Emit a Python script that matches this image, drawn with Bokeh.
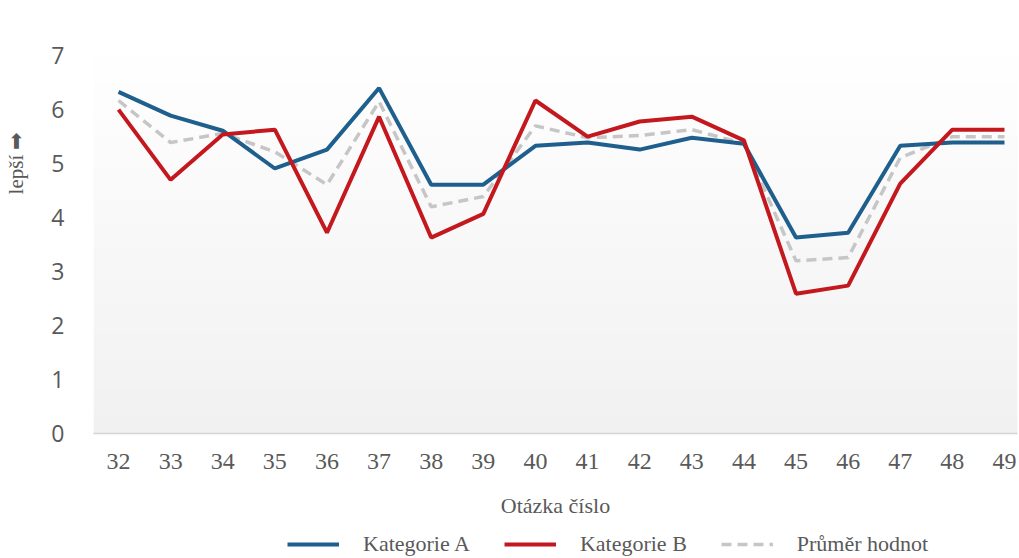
import numpy as np
from bokeh.plotting import figure
from bokeh.layouts import column
from bokeh.models import Range1d, FixedTicker, Legend, LegendItem
from bokeh.embed import file_html
from bokeh.resources import INLINE

questions = [32, 33, 34, 35, 36, 37, 38, 39, 40, 41, 42, 43, 44, 45, 46, 47, 48, 49]
kategorie_a = [6.33, 5.89, 5.61, 4.91, 5.26, 6.40, 4.61, 4.61, 5.33, 5.39, 5.26, 5.48, 5.37, 3.63, 3.72, 5.33, 5.39, 5.39]
kategorie_b = [6.00, 4.70, 5.54, 5.63, 3.72, 5.87, 3.63, 4.07, 6.17, 5.50, 5.78, 5.87, 5.43, 2.59, 2.74, 4.63, 5.63, 5.63]
prumer = [6.17, 5.39, 5.56, 5.22, 4.61, 6.15, 4.20, 4.39, 5.70, 5.48, 5.52, 5.63, 5.37, 3.20, 3.26, 5.11, 5.50, 5.50]
y_ticks = [0, 1, 2, 3, 4, 5, 6, 7]
series_names = ["Kategorie A", "Kategorie B", "Průměr hodnot"]

serif = "Liberation Serif"
sans = "Open Sans"
txt = "#595959"
col_a, col_b, col_avg = "#1f5f8e", "#c4181f", "#c6c6c6"

x0, x1 = 31.52, 49.25
y0, y1 = 0, 7.3

p = figure(width=1019, height=530, output_backend="svg", toolbar_location=None,
           x_range=Range1d(x0, x1), y_range=Range1d(y0, y1),
           min_border_left=93, min_border_right=2, min_border_top=39, min_border_bottom=97)
p.outline_line_color = None
p.background_fill_color = "white"
p.border_fill_color = "white"

# soft vertical gradient background in the plot area
n = 64
grad = np.zeros((n, 1), dtype=np.uint32)
view = grad.view(dtype=np.uint8).reshape((n, 1, 4))
for i in range(n):
    t = i / (n - 1)  # 0 bottom -> 1 top
    c = int(round(241 + 14 * t))
    view[i, 0, :] = [c, c, c, 255]
p.image_rgba(image=[grad], x=x0, y=y0, dw=x1 - x0, dh=y1 - y0)

# axes
p.xaxis.ticker = FixedTicker(ticks=questions)
p.yaxis.ticker = FixedTicker(ticks=y_ticks)
p.xaxis.major_tick_line_color = None
p.xaxis.minor_tick_line_color = None
p.yaxis.major_tick_line_color = None
p.yaxis.minor_tick_line_color = None
p.yaxis.axis_line_color = None
p.xaxis.axis_line_color = "#d4d4d4"
p.xaxis.axis_line_width = 1.5

p.xaxis.major_label_text_font = serif
p.xaxis.major_label_text_font_size = "24px"
p.xaxis.major_label_text_color = txt
p.xaxis.major_label_standoff = 14
p.xaxis.axis_label = "Otázka číslo"
p.xaxis.axis_label_text_font = serif
p.xaxis.axis_label_text_font_style = "normal"
p.xaxis.axis_label_text_font_size = "22px"
p.xaxis.axis_label_text_color = txt
p.xaxis.axis_label_standoff = 21

p.yaxis.major_label_text_font = sans
p.yaxis.major_label_text_font_size = "23px"
p.yaxis.major_label_text_color = txt
p.yaxis.major_label_standoff = 23
# leading em spaces shift the centred, rotated label upward as in the reference
p.yaxis.axis_label = "\u2003" * 7 + "lepší ➡"
p.yaxis.axis_label_text_font = serif
p.yaxis.axis_label_text_font_style = "normal"
p.yaxis.axis_label_text_font_size = "21px"
p.yaxis.axis_label_text_color = txt
p.yaxis.axis_label_standoff = 20

p.xgrid.grid_line_color = "#d9d9d9"
p.xgrid.grid_line_width = 1
p.ygrid.grid_line_color = None

p.line(questions, prumer, line_color=col_avg, line_width=3.5, line_dash="10 6")
p.line(questions, kategorie_a, line_color=col_a, line_width=4)
p.line(questions, kategorie_b, line_color=col_b, line_width=4)

# legend strip below the chart (its lines fall outside this strip's ranges; only the legend shows)
p2 = figure(width=1019, height=28, output_backend="svg", toolbar_location=None,
            x_axis_type=None, y_axis_type=None, min_border=0,
            x_range=Range1d(0, 1), y_range=Range1d(0, 1))
p2.outline_line_color = None
p2.background_fill_color = "white"
p2.border_fill_color = "white"
l_a = p2.line(questions, kategorie_a, line_color=col_a, line_width=4)
l_b = p2.line(questions, kategorie_b, line_color=col_b, line_width=4)
l_avg = p2.line(questions, prumer, line_color=col_avg, line_width=3.5, line_dash="10 6")

legend = Legend(items=[LegendItem(label=series_names[0], renderers=[l_a]),
                       LegendItem(label=series_names[1], renderers=[l_b]),
                       LegendItem(label=series_names[2], renderers=[l_avg])],
                orientation="horizontal", location=(194, 1),
                label_text_font=serif, label_text_font_size="22px", label_text_color=txt,
                glyph_width=52, glyph_height=20, label_height=20, label_standoff=24, spacing=34,
                padding=0, margin=0, border_line_color=None, background_fill_alpha=0)
p2.add_layout(legend, "center")

open("out.html", "w").write(file_html(column(p, p2, spacing=0), INLINE))
